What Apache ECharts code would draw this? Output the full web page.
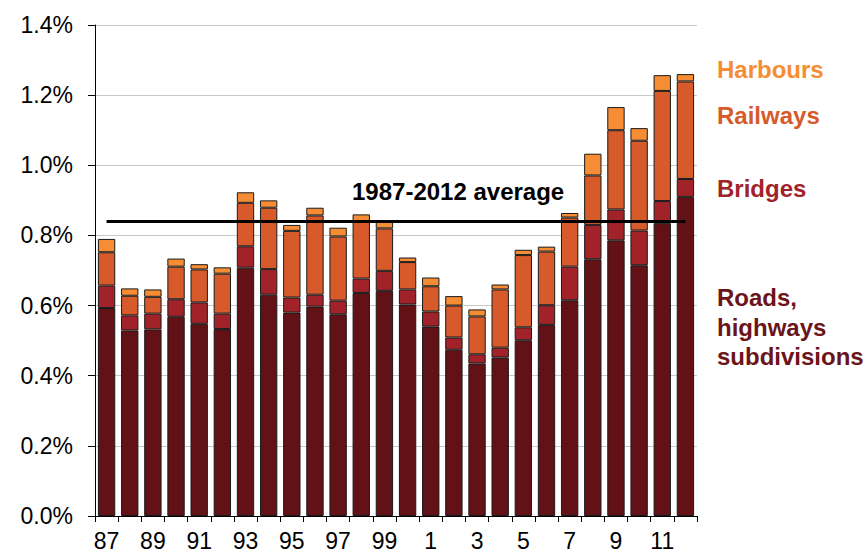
<!DOCTYPE html>
<html>
<head>
<meta charset="utf-8">
<script src="https://cdn.jsdelivr.net/npm/echarts@6/dist/echarts.min.js"></script>
<style>
  html, body { margin: 0; padding: 0; background: #fff; }
  #chart { width: 867px; height: 552px; }
</style>
</head>
<body>
<div id="chart"></div>
<script>
// years shown as two-digit labels, 1987-2012
const years = ['87','88','89','90','91','92','93','94','95','96','97','98','99',
               '0','1','2','3','4','5','6','7','8','9','10','11','12'];

// % of GDP, stacked segments
const roads     = [0.593,0.529,0.532,0.568,0.548,0.533,0.708,0.631,0.580,0.597,0.575,0.636,0.642,
                   0.603,0.540,0.474,0.435,0.452,0.501,0.545,0.615,0.732,0.786,0.715,0.835,0.910];
const bridges   = [0.064,0.043,0.045,0.050,0.061,0.044,0.061,0.073,0.043,0.034,0.039,0.041,0.057,
                   0.043,0.043,0.035,0.026,0.028,0.037,0.056,0.096,0.098,0.088,0.099,0.063,0.051];
const railways  = [0.095,0.056,0.048,0.093,0.094,0.114,0.124,0.175,0.190,0.226,0.183,0.164,0.121,
                   0.078,0.072,0.091,0.108,0.166,0.206,0.153,0.140,0.141,0.226,0.256,0.314,0.278];
const harbours  = [0.038,0.021,0.021,0.023,0.015,0.018,0.030,0.021,0.017,0.022,0.025,0.019,0.019,
                   0.013,0.025,0.027,0.020,0.014,0.015,0.014,0.013,0.062,0.066,0.036,0.045,0.021];
const average = 0.84;

const font = 'Arial, "Liberation Sans", sans-serif';
const chart = echarts.init(document.getElementById('chart'), null, { renderer: 'svg' });

const barStyle = c => ({ color: c, borderColor: '#1a1a1a', borderWidth: 1 });

chart.setOption({
  animation: false,
  grid: { left: 95, right: 170, top: 25, bottom: 36, outerBoundsMode: 'none', containLabel: false },
  xAxis: {
    type: 'category',
    data: years,
    axisLine: { lineStyle: { color: '#000', width: 1 } },
    axisTick: { show: true, length: 6, interval: 0, lineStyle: { color: '#000' } },
    axisLabel: { interval: 1, margin: 13, fontSize: 23, color: '#000', fontFamily: font }
  },
  yAxis: {
    type: 'value',
    min: 0, max: 1.4, interval: 0.2,
    axisLine: { show: true, lineStyle: { color: '#000', width: 1 } },
    axisTick: { show: true, length: 7, lineStyle: { color: '#000' } },
    splitLine: { lineStyle: { color: '#c8c8c8', width: 1 } },
    axisLabel: {
      fontSize: 23, color: '#000', fontFamily: font, margin: 22,
      formatter: v => v.toFixed(1) + '%'
    }
  },
  series: [
    { name: 'Roads', type: 'bar', stack: 'a', data: roads, barWidth: '75%', itemStyle: barStyle('#621216') },
    { name: 'Bridges', type: 'bar', stack: 'a', data: bridges, itemStyle: barStyle('#a2222a') },
    { name: 'Railways', type: 'bar', stack: 'a', data: railways, itemStyle: barStyle('#d65a2a') },
    {
      name: 'Harbours', type: 'bar', stack: 'a', data: harbours, itemStyle: barStyle('#f68d35'),
      markLine: {
        silent: true, symbol: 'none', z: 10,
        label: { show: false },
        lineStyle: { color: '#000', width: 3, type: 'solid' },
        data: [[{ xAxis: '87', yAxis: average }, { xAxis: '12', yAxis: average }]]
      }
    }
  ],
  graphic: [
    { type: 'text', left: 352, top: 179,
      style: { text: '1987-2012 average', font: 'bold 24px ' + font, fill: '#000' } },
    { type: 'text', left: 717, top: 57,
      style: { text: 'Harbours', font: 'bold 24px ' + font, fill: '#f68d35' } },
    { type: 'text', left: 717, top: 103,
      style: { text: 'Railways', font: 'bold 24px ' + font, fill: '#d65a2a' } },
    { type: 'text', left: 717, top: 176,
      style: { text: 'Bridges', font: 'bold 24px ' + font, fill: '#a2222a' } },
    { type: 'text', left: 717, top: 283,
      style: { text: 'Roads,\nhighways\nsubdivisions', font: 'bold 24px ' + font,
               fill: '#6b1419', lineHeight: 29.5 } }
  ]
});
</script>
</body>
</html>
